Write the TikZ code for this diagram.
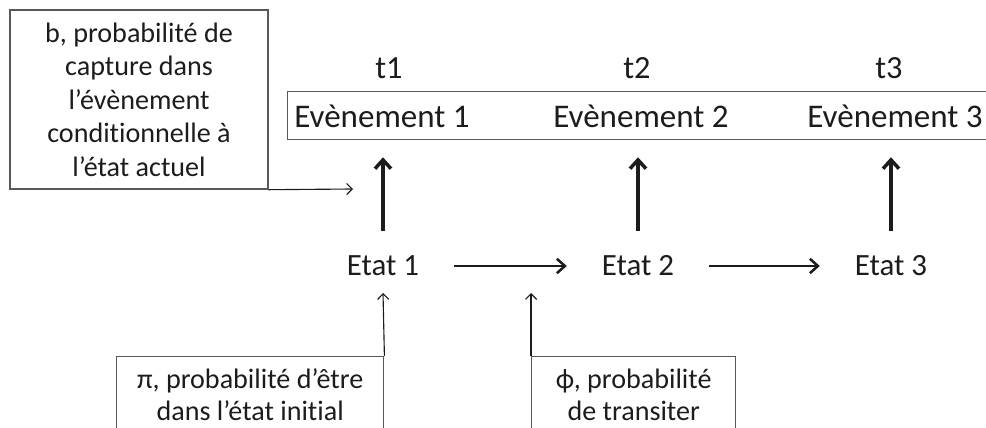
\documentclass[tikz,border=0pt]{standalone}
\usepackage{fontspec}
\setmainfont{Carlito}[Ligatures={NoCommon}]
\usetikzlibrary{arrows.meta}
\definecolor{inkgray}{HTML}{1C1C1C}
\definecolor{boxgray}{HTML}{595959}
\tikzset{
  probbox/.style={draw=boxgray,line width=1pt,text=inkgray,align=center,inner sep=0pt},
  bigfont/.style={font=\fontsize{20}{23.8}\selectfont},
  smallfont/.style={font=\fontsize{20}{22.7}\selectfont},
  evtext/.style={text=inkgray,font=\fontsize{23.5}{28}\selectfont,minimum height=1.2cm,inner sep=0pt},
  tlabel/.style={text=inkgray,font=\fontsize{23}{27}\selectfont},
  etat/.style={text=inkgray,font=\fontsize{22}{26}\selectfont,inner xsep=0.87cm,inner ysep=0pt,minimum height=1.75cm},
  bigarrow/.style={-{Straight Barb[length=2.2mm,width=4mm]},draw=inkgray,line width=2.5pt},
  steparrow/.style={-{Straight Barb[length=2mm,width=3.6mm]},draw=inkgray,line width=1.8pt},
  thinarrow/.style={-{Straight Barb[length=1.4mm,width=2.8mm]},draw=inkgray,line width=0.8pt}
}
\begin{document}
\begin{tikzpicture}
\useasboundingbox (0,0) rectangle (24.65,10.675);
\clip (0,0) rectangle (24.65,10.675);

\node[probbox,bigfont,minimum width=6.45cm,minimum height=4.475cm] (capture) at (3.475,8.1875)
  {b, probabilité de\\capture dans\\l’évènement\\conditionnelle à\\l’état actuel};

\node[draw=boxgray,line width=1pt,minimum width=18.4cm,minimum height=1.2cm,anchor=south west] (events) at (7.175,7.175) {};
\node[evtext] (ev1) at (9.55,7.775) {Evènement 1};
\node[evtext] (ev2) at (16.025,7.775) {Evènement 2};
\node[evtext] (ev3) at (22.375,7.775) {Evènement 3};

\node[tlabel] (t1) at (9.725,8.975) {t1};
\node[tlabel] (t2) at (15.925,8.975) {t2};
\node[tlabel] (t3) at (22.225,8.975) {t3};

\node[etat] (etat1) at (9.575,4.025) {Etat 1};
\node[etat] (etat2) at (15.95,4.025) {Etat 2};
\node[etat] (etat3) at (22.275,4.025) {Etat 3};

\draw[steparrow] (etat1) -- (etat2);
\draw[steparrow] (etat2) -- (etat3);
\draw[bigarrow,shorten >=0.425cm] (etat1.north) -- (etat1.north |- ev1.south);
\draw[bigarrow,shorten >=0.425cm] (etat2.north) -- (etat2.north |- ev2.south);
\draw[bigarrow,shorten >=0.425cm] (etat3.north) -- (etat3.north |- ev3.south);

\coordinate (captip) at (8.825,5.95);
\draw[thinarrow] (capture.south east) -- (captip);

\node[probbox,smallfont,minimum width=6.675cm,minimum height=1.9cm,anchor=north west] (init) at (2.9,1.775)
  {π, probabilité d’être\\dans l’état initial};
\coordinate (inittip) at (9.575,3.35);
\draw[thinarrow] (init.north east) -- (inittip);

\node[probbox,smallfont,minimum width=5.1cm,minimum height=1.9cm,anchor=north west] (trans) at (13.275,1.775)
  {ϕ, probabilité\\de transiter};
\coordinate (transtip) at (13.275,3.35);
\draw[thinarrow] (trans.north west) -- (transtip);
\end{tikzpicture}
\end{document}
